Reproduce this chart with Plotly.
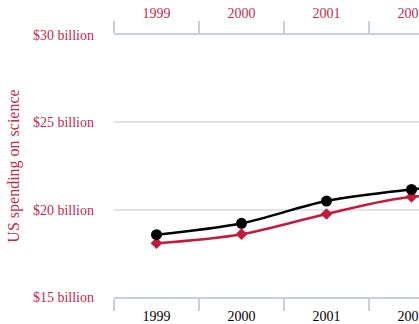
import plotly.graph_objects as go

years = ["1999", "2000", "2001", "2002", "2003", "2004", "2005", "2006", "2007", "2008", "2009"]
science_spending_bn = [18.079, 18.594, 19.753, 20.734, 20.831, 23.029, 23.597, 23.584, 25.525, 27.731, 29.449]
hanging_suicides = [5427, 5688, 6198, 6462, 6635, 7336, 7248, 7491, 8161, 8578, 9000]
y_tickvals = [15, 20, 25, 30]
y_ticktext = ["$15 billion", "$20 billion", "$25 billion", "$30 billion"]

RED = "#c41a3b"
TEXTRED = "#c42a48"
AXIS = "#c9d1d8"
GRID = "#e4e4e4"
FONT = "Liberation Serif"

fig = go.Figure()
fig.add_trace(go.Scatter(
    x=years, y=hanging_suicides, mode="lines+markers", yaxis="y2",
    line=dict(color="black", width=2.5, shape="spline"),
    marker=dict(symbol="circle", size=11, color="black"),
    showlegend=False))
fig.add_trace(go.Scatter(
    x=years, y=science_spending_bn, mode="lines+markers",
    line=dict(color=RED, width=2.5, shape="spline"),
    marker=dict(symbol="diamond", size=9, color=RED),
    showlegend=False))
# dummy trace to anchor the top year axis
fig.add_trace(go.Scatter(
    x=years, y=science_spending_bn, xaxis="x2", mode="lines",
    line=dict(width=0), opacity=0, hoverinfo="skip", showlegend=False))

xrange = [-0.5, 3.088]
fig.update_layout(
    width=419, height=324,
    margin=dict(l=114, r=0, t=35, b=27, pad=0, autoexpand=False),
    paper_bgcolor="white", plot_bgcolor="white",
    font=dict(family=FONT, size=14),
    xaxis=dict(type="category", categoryarray=years, range=xrange, automargin=False,
               tickson="boundaries", ticks="outside", ticklen=12, tickcolor=AXIS, tickwidth=1.5,
               showline=True, linecolor=AXIS, linewidth=1.5, showgrid=False,
               ticklabelstandoff=5,
               tickfont=dict(color="black", size=14, family=FONT)),
    xaxis2=dict(type="category", categoryarray=years, range=xrange, overlaying="x", side="top",
                anchor="y", automargin=False, tickson="boundaries", ticks="outside", ticklen=12,
                tickcolor=AXIS, tickwidth=1.5, ticklabelstandoff=10,
                showline=True, linecolor=AXIS, linewidth=1.5, showgrid=False,
                tickfont=dict(color=TEXTRED, size=14, family=FONT)),
    yaxis=dict(range=[15, 30], tickvals=y_tickvals, ticktext=y_ticktext, automargin=False,
               showgrid=True, gridcolor=GRID, gridwidth=1.5, zeroline=False, showline=False,
               ticks="", ticklabelstandoff=19,
               tickfont=dict(color=TEXTRED, size=14, family=FONT),
               title=dict(text="US spending on science", font=dict(color=TEXTRED, size=16, family=FONT),
                          standoff=9)),
    yaxis2=dict(range=[4000, 10000], overlaying="y", side="right", visible=False,
                showgrid=False, zeroline=False),
)

fig.write_html("out.html", config={"displayModeBar": False},
               post_script="document.body.style.margin='0';")
